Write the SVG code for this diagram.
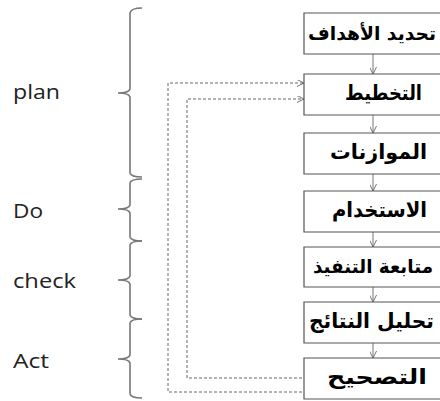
<svg xmlns="http://www.w3.org/2000/svg" width="440" height="401" viewBox="0 0 440 401">
<defs>
<style>
.box{fill:#fff;stroke:#555;stroke-width:1.2}
.ar{font-family:"DejaVu Sans",sans-serif;font-weight:bold;font-size:20.5px;fill:#000;text-anchor:middle}
.sm{font-size:19px}
.lbl{font-family:"Open Sans","Liberation Sans",sans-serif;font-size:20px;fill:#222}
.brace{fill:none;stroke:#777;stroke-width:1.6}
.flow{fill:none;stroke:#777;stroke-width:1}
.dash{fill:none;stroke:#666;stroke-width:1;stroke-dasharray:3 2}
</style>
<marker id="ah" viewBox="0 0 10 10" refX="10" refY="5" markerWidth="7" markerHeight="7" markerUnits="userSpaceOnUse" orient="auto">
<path d="M0,0 L10,5 L0,10" fill="none" stroke="#666" stroke-width="1.3"/>
</marker>
</defs>
<rect width="440" height="401" fill="#fff"/>

<g id="braces">
<path class="brace" d="M142,8 Q131,8 130,13 L130,89 Q129,93 118,93 Q129,93 130,97 L130,173 Q131,177 142,177"/>
<path class="brace" d="M142,179 Q131,179 130,183 L130,205 Q129,209 118,209 Q129,209 130,213 L130,237 Q131,241 142,241"/>
<path class="brace" d="M142,241 Q131,241 130,245 L130,276 Q129,280 118,280 Q129,280 130,284 L130,315 Q131,319 142,319"/>
<path class="brace" d="M142,319 Q131,319 130,323 L130,355 Q129,359 118,359 Q129,359 130,363 L130,394 Q131,398 142,398"/>
</g>

<g id="labels">
<text class="lbl" x="13" y="99" textLength="47" lengthAdjust="spacingAndGlyphs">plan</text>
<text class="lbl" x="13" y="218" textLength="30" lengthAdjust="spacingAndGlyphs">Do</text>
<text class="lbl" x="13" y="288" textLength="63" lengthAdjust="spacingAndGlyphs">check</text>
<text class="lbl" x="13" y="368" textLength="36" lengthAdjust="spacingAndGlyphs">Act</text>
</g>

<g id="connectors">
<line class="flow" x1="373" y1="54" x2="373" y2="74" marker-end="url(#ah)"/>
<line class="flow" x1="373" y1="115" x2="373" y2="133" marker-end="url(#ah)"/>
<line class="flow" x1="373" y1="174" x2="373" y2="191" marker-end="url(#ah)"/>
<line class="flow" x1="373" y1="232" x2="373" y2="247" marker-end="url(#ah)"/>
<line class="flow" x1="373" y1="287" x2="373" y2="302" marker-end="url(#ah)"/>
<line class="flow" x1="373" y1="343" x2="373" y2="358" marker-end="url(#ah)"/>
<path class="dash" d="M302,392 L168,392 L168,83 L304,83" marker-end="url(#ah)"/>
<path class="dash" d="M302,378 L187,378 L187,99 L304,99" marker-end="url(#ah)"/>
</g>

<g id="n1"><path class="box" d="M440,13 H304 V54 H440"/><text class="ar sm" x="372" y="40" textLength="128" lengthAdjust="spacingAndGlyphs">تحديد الأهداف</text></g>
<g id="n2"><path class="box" d="M440,74 H304 V115 H440"/><text class="ar" x="383.5" y="100" textLength="77" lengthAdjust="spacingAndGlyphs">التخطيط</text></g>
<g id="n3"><path class="box" d="M440,133 H304 V174 H440"/><text class="ar" x="378.5" y="159" textLength="97" lengthAdjust="spacingAndGlyphs">الموازنات</text></g>
<g id="n4"><path class="box" d="M440,191 H304 V232 H440"/><text class="ar" x="379.5" y="217" textLength="95" lengthAdjust="spacingAndGlyphs">الاستخدام</text></g>
<g id="n5"><path class="box" d="M440,247 H304 V287 H440"/><text class="ar sm" x="373" y="273" textLength="120" lengthAdjust="spacingAndGlyphs">متابعة التنفيذ</text></g>
<g id="n6"><path class="box" d="M440,302 H304 V343 H440"/><text class="ar" x="371.5" y="328" textLength="125" lengthAdjust="spacingAndGlyphs">تحليل النتائج</text></g>
<g id="n7"><path class="box" d="M440,358 H304 V399 H440"/><text class="ar" x="377" y="384" textLength="100" lengthAdjust="spacingAndGlyphs">التصحيح</text></g>
</svg>
